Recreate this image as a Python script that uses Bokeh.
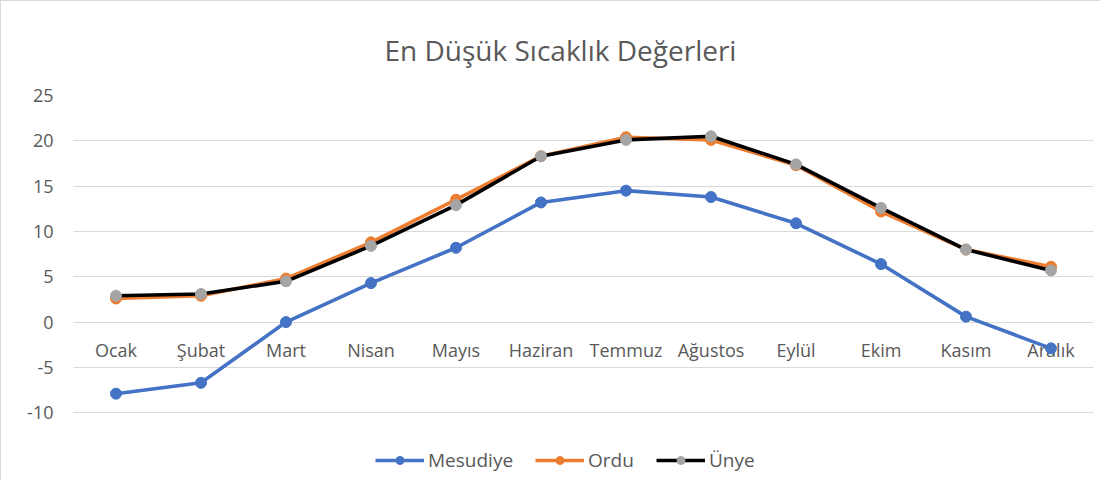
from bokeh.plotting import figure
from bokeh.models import FactorRange, Range1d, Legend, LegendItem, FixedTicker
from bokeh.core.properties import value
from bokeh.embed import file_html
from bokeh.resources import INLINE

months = ["Ocak", "Şubat", "Mart", "Nisan", "Mayıs", "Haziran", "Temmuz",
          "Ağustos", "Eylül", "Ekim", "Kasım", "Aralık"]
mesudiye = [-7.9, -6.7, 0.0, 4.3, 8.2, 13.2, 14.5, 13.8, 10.9, 6.4, 0.6, -2.9]
ordu = [2.6, 2.9, 4.8, 8.8, 13.5, 18.3, 20.4, 20.1, 17.3, 12.2, 8.0, 6.1]
unye = [2.9, 3.1, 4.5, 8.4, 12.9, 18.3, 20.1, 20.5, 17.4, 12.6, 8.0, 5.7]
y_ticks = [-10, -5, 0, 5, 10, 15, 20, 25]
y_tick_labels = {t: str(t) for t in y_ticks}
title_text = "En Düşük Sıcaklık Değerleri"

FONT = "Open Sans"
TXT = "#595959"

# the frame reaches below -10 so that the legend can sit inside it
p = figure(width=1100, height=480, output_backend="svg", toolbar_location=None,
           x_range=FactorRange(factors=months, range_padding=0),
           y_range=Range1d(-17.37, 25),
           min_border_left=72, min_border_right=8, min_border_top=93, min_border_bottom=2)
p.styles = {"border-left": "1px solid #d9d9d9", "border-top": "1px solid #d9d9d9"}

p.title.text = title_text
p.title.align = "left"
p.title.offset = 311
p.title.text_font = FONT
p.title.text_font_size = "28px"
p.title.text_font_style = "normal"
p.title.text_color = TXT
p.title.standoff = 54

p.outline_line_color = None
p.xgrid.grid_line_color = None
p.ygrid.grid_line_color = "#d9d9d9"
p.ygrid.grid_line_width = 1
p.xaxis.visible = False

p.yaxis.ticker = FixedTicker(ticks=y_ticks)
p.yaxis.major_label_overrides = y_tick_labels
p.yaxis.axis_line_color = None
p.yaxis.major_tick_line_color = None
p.yaxis.minor_tick_line_color = None
p.yaxis.major_tick_out = 0
p.yaxis.major_tick_in = 0
p.yaxis.major_label_text_font = FONT
p.yaxis.major_label_text_font_size = "18px"
p.yaxis.major_label_text_color = TXT
p.yaxis.major_label_standoff = 20

# category labels sitting under the zero line
p.text(x=months, y=[0] * len(months), text=months, text_font=value(FONT),
       text_font_size="18px", text_color=TXT, text_align="center",
       text_baseline="middle", y_offset=28)

series = [
    ("Mesudiye", mesudiye, "#4472C4", "#4472C4"),
    ("Ordu", ordu, "#ED7D31", "#ED7D31"),
    ("Ünye", unye, "#000000", "#A5A5A5"),
]
items = []
for name, vals, lc, mc in series:
    l = p.line(months, vals, line_color=lc, line_width=3.6)
    s = p.scatter(months, vals, size=11, fill_color=mc, line_color=mc)
    items.append(LegendItem(label=name, renderers=[l, s]))

legend = Legend(items=items, orientation="horizontal", location=(302, 6),
                label_text_font=FONT, label_text_font_size="19px",
                label_text_color=TXT, glyph_width=49, glyph_height=20,
                label_standoff=4, spacing=22, border_line_color=None,
                padding=2, margin=0, background_fill_alpha=0)
p.add_layout(legend)

open("out.html", "w").write(file_html(p, INLINE))
